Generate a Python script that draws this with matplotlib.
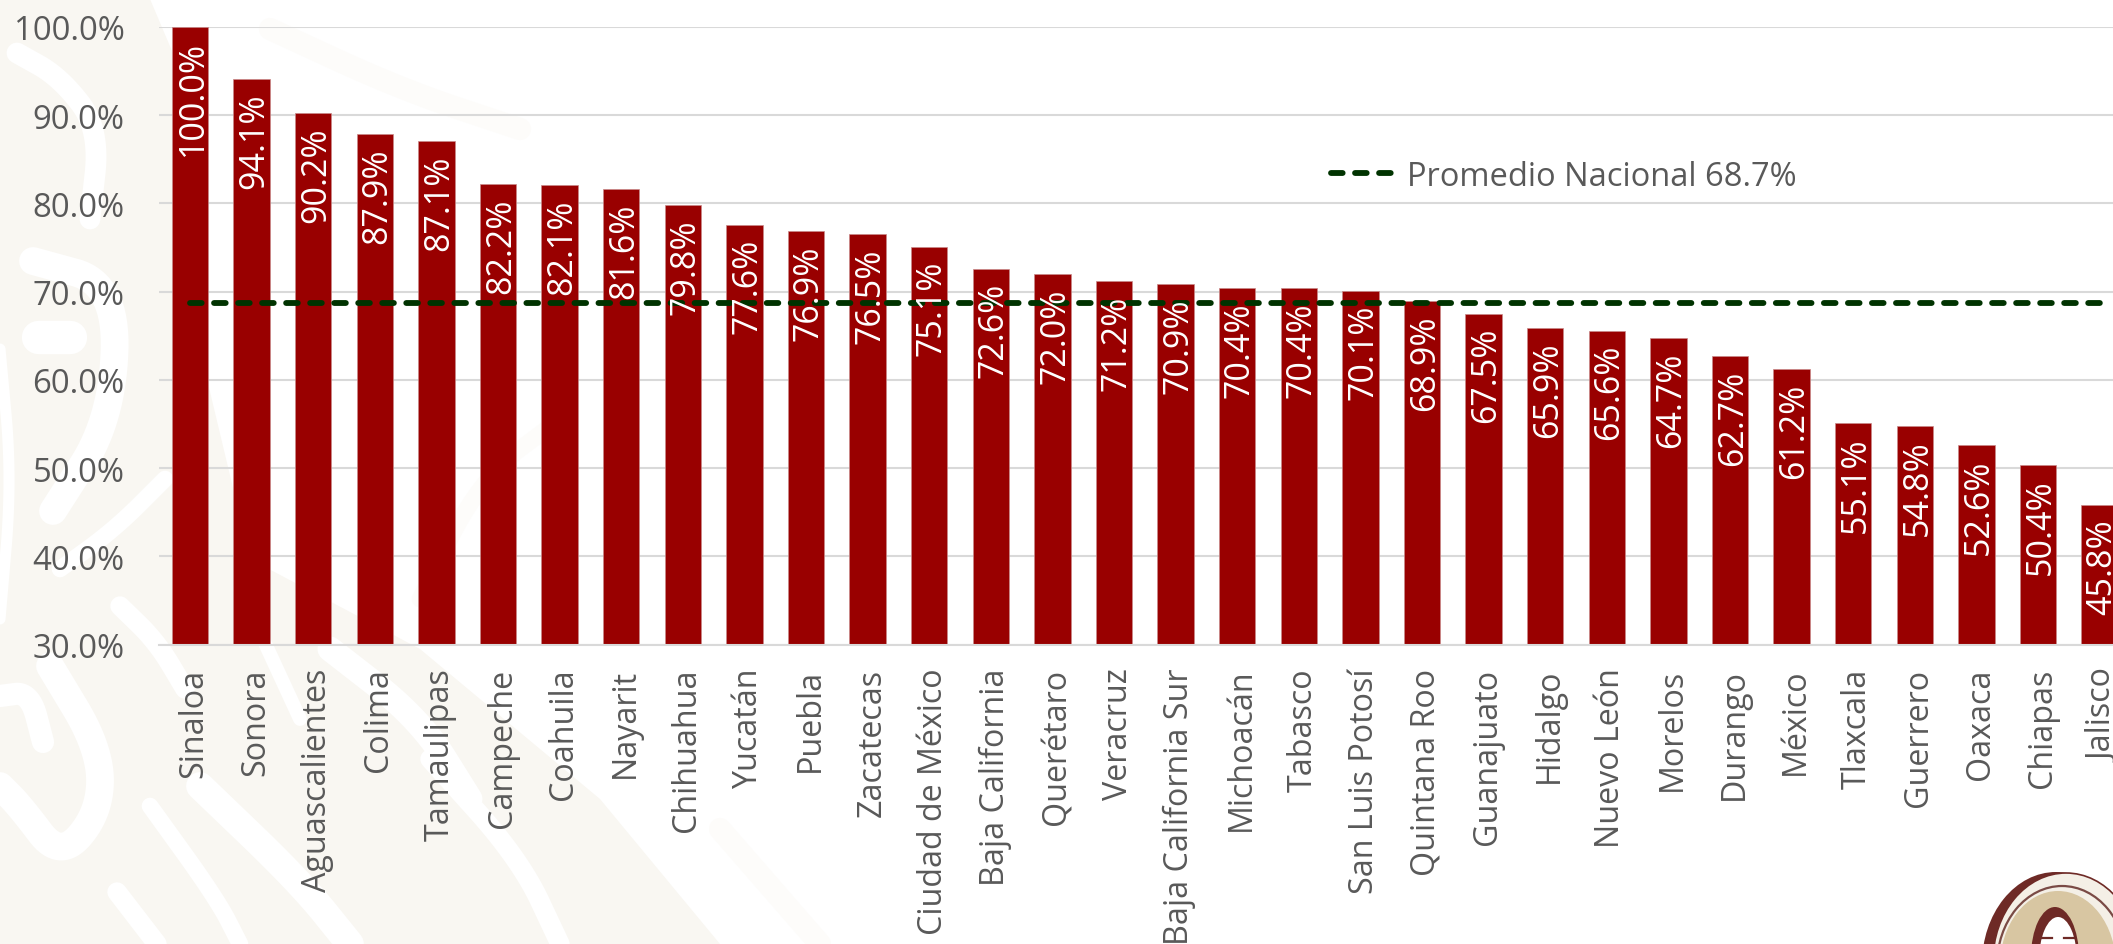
import matplotlib
matplotlib.use("Agg")
import matplotlib.pyplot as plt
from matplotlib.patches import Polygon, Ellipse
from matplotlib.transforms import ScaledTranslation

plt.rcParams['font.family'] = ['Open Sans', 'DejaVu Sans']
plt.rcParams['lines.scale_dashes'] = False

estados = ["Sinaloa", "Sonora", "Aguascalientes", "Colima", "Tamaulipas", "Campeche", "Coahuila", "Nayarit",
           "Chihuahua", "Yucatán", "Puebla", "Zacatecas", "Ciudad de México", "Baja California", "Querétaro",
           "Veracruz", "Baja California Sur", "Michoacán", "Tabasco", "San Luis Potosí", "Quintana Roo",
           "Guanajuato", "Hidalgo", "Nuevo León", "Morelos", "Durango", "México", "Tlaxcala", "Guerrero",
           "Oaxaca", "Chiapas", "Jalisco"]
valores = [100.0, 94.1, 90.2, 87.9, 87.1, 82.2, 82.1, 81.6, 79.8, 77.6, 76.9, 76.5, 75.1, 72.6, 72.0, 71.2,
           70.9, 70.4, 70.4, 70.1, 68.9, 67.5, 65.9, 65.6, 64.7, 62.7, 61.2, 55.1, 54.8, 52.6, 50.4, 45.8]
promedio = 68.7
y_ticks = [30, 40, 50, 60, 70, 80, 90, 100]

W, H = 2113, 945
fig = plt.figure(figsize=(W / 100, H / 100), dpi=100, facecolor='white')


def smooth(pts, n=4):
    """Corner-cutting, for the curved strokes of the decorative watermark."""
    for _ in range(n):
        new = [pts[0]]
        for (a, b), (c, d) in zip(pts[:-1], pts[1:]):
            new += [(0.75 * a + 0.25 * c, 0.75 * b + 0.25 * d), (0.25 * a + 0.75 * c, 0.25 * b + 0.75 * d)]
        pts = new + [pts[-1]]
    return zip(*pts)


# Decorative background watermark, in pixel coordinates
bg = fig.add_axes([0, 0, 1, 1], zorder=0)
bg.set_xlim(0, W); bg.set_ylim(H, 0); bg.axis('off')
CREAM = '#F9F7F2'
bg.add_patch(Polygon([(0, 0), (150, 0), (205, 130), (195, 330), (250, 560), (420, 650), (600, 800), (720, 945), (0, 945)],
                     closed=True, fc=CREAM, ec='none'))
for pts, lw in [
    ([(17, 54), (60, 78), (100, 130), (90, 220)], 15),
    ([(33, 262), (117, 285), (112, 420), (53, 512)], 20),
    ([(38, 338), (70, 338)], 24),
    ([(0, 350), (12, 480), (0, 620)], 8),
    ([(50, 667), (100, 750), (100, 813), (60, 860), (20, 807), (0, 787)], 20),
    ([(0, 697), (30, 693), (43, 743)], 16),
    ([(150, 807), (217, 900), (240, 945)], 12),
    ([(117, 893), (157, 945)], 14),
    ([(200, 787), (300, 883), (350, 945)], 20),
    ([(120, 607), (157, 643), (185, 690)], 14),
    ([(330, 650), (420, 720), (470, 800)], 18),
    ([(430, 760), (520, 860), (560, 945)], 14),
    ([(60, 570), (115, 530), (165, 480)], 12),
    ([(240, 590), (300, 720)], 10),
]:
    xs, ys = smooth(pts)
    bg.plot(xs, ys, color='white', lw=lw, solid_capstyle='round', solid_joinstyle='round')
for pts, lw in [
    ([(270, 30), (400, 90), (520, 130)], 16),
    ([(560, 420), (480, 480), (420, 600)], 12),
    ([(720, 830), (820, 945)], 16),
]:
    xs, ys = smooth(pts)
    bg.plot(xs, ys, color='#FDFCFA', lw=lw, solid_capstyle='round')

# Decorative portrait medallion, bottom right
bg.add_patch(Ellipse((2056, 965), 148, 184, fc='#6E2A26', ec='none'))
bg.add_patch(Ellipse((2066, 962), 146, 176, fc='#F4EFE6', ec='#6E2A26', lw=1.2))
bg.add_patch(Ellipse((2062, 966), 130, 158, fc='none', ec='#7A4A45', lw=1.6))
bg.add_patch(Ellipse((2058, 967), 116, 150, fc='#D8C6A2', ec='none'))
bg.add_patch(Ellipse((2055, 958), 48, 100, fc='#6E2A26', ec='none'))
bg.add_patch(Ellipse((2058, 962), 38, 88, fc='#FFFFFF', ec='none'))
bg.plot([2042, 2052], [939, 939], color='#6E2A26', lw=1.6)
bg.plot([2064, 2074], [939, 939], color='#6E2A26', lw=1.6)

# Chart
left, right, top, bottom = 159.2, W, 28.0, 645.6
ax = fig.add_axes([left / W, 1 - bottom / H, (right - left) / W, (bottom - top) / H], zorder=1)
ax.patch.set_alpha(0)
ax.set_xlim(-0.5, (right - left) / 61.6 - 0.5)
ax.set_ylim(30, 100)

x = list(range(len(estados)))
ax.bar(x, valores, width=0.59, color='#990000', edgecolor='#C98A8A', linewidth=0.5, zorder=2)
ax.plot(x, [promedio] * len(x), color='#003300', lw=4.2, linestyle=(0, (8.4, 8.9)),
        dash_capstyle='round', zorder=3, label='Promedio Nacional 68.7%')

for xi, v in zip(x, valores):
    ax.annotate(f"{v:.1f}%", (xi, v), xytext=(2, -9.5), textcoords='offset points', rotation=90,
                ha='center', va='top', color='white', fontsize=24.5, zorder=4, annotation_clip=False)

ax.set_yticks(y_ticks)
ax.set_yticklabels([f"{t:.1f}%" for t in y_ticks], fontsize=23.7, color='#595959')
ax.set_xticks(x)
ax.set_xticklabels(estados, rotation=90, fontsize=23.2, color='#595959')
ax.tick_params(axis='y', length=0, pad=25)
ax.tick_params(axis='x', length=0, pad=16.5)
label_shift = ScaledTranslation(3 / 72, 0, fig.dpi_scale_trans)
for lab in ax.get_xticklabels():
    lab.set_transform(lab.get_transform() + label_shift)
ax.grid(axis='y', color='#D9D9D9', lw=1.5, zorder=1)
ax.set_axisbelow(True)
for s in ['top', 'right', 'left']:
    ax.spines[s].set_visible(False)
ax.spines['bottom'].set_color('#D9D9D9')
ax.spines['bottom'].set_linewidth(1.5)

ax.legend(loc='center left', bbox_to_anchor=((1321 - left) / (right - left), 1 - (177 - top) / (bottom - top)),
          frameon=False, fontsize=23.5, labelcolor='#595959', handlelength=2.05, handletextpad=0.28,
          borderpad=0, borderaxespad=0.3)

fig.savefig('out.png', dpi=100, facecolor='white')
